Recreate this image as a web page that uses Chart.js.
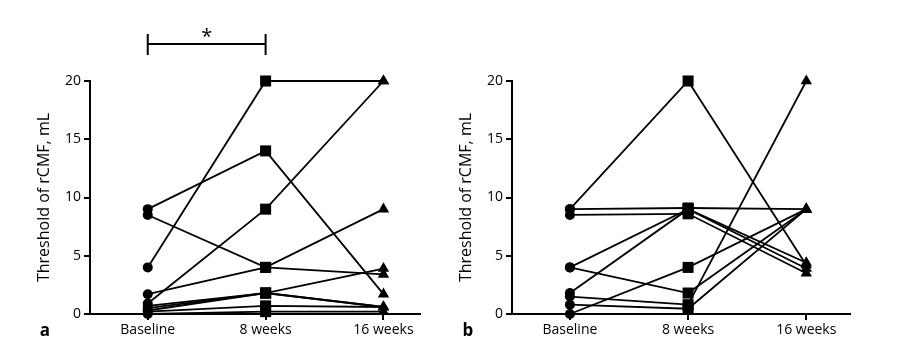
<!DOCTYPE html>
<html>
<head>
<meta charset="utf-8">
<script src="https://cdn.jsdelivr.net/npm/chart.js@4.4.0/dist/chart.umd.min.js"></script>
<style>
    body { margin: 0; background: #fff; }
    #contenedor { position: relative; width: 899px; height: 361px; }
    .panel { position: absolute; top: 0; height: 361px; }
</style>
</head>
<body>
<div id="contenedor">
    <div class="panel" style="left:0; width:450px;"><canvas id="graficoA"></canvas></div>
    <div class="panel" style="left:450px; width:449px;"><canvas id="graficoB"></canvas></div>
</div>
<script>
var semanas = ['Baseline', '8 weeks', '16 weeks'];
var ticksY = [0, 5, 10, 15, 20];

// panel a: un valor por paciente en cada momento
var baselineA = [4, 9, 8.5, 1.7, 0.9, 0.7, 0.5, 0.3, 0.2, 0];
var semana8A = [20, 14, 4, 4, 9, 1.8, 1.8, 1.8, 0.7, 0.2];
var semana16A = [20, 1.7, 3.4, 9, 20, 3.9, 0.6, 0.6, 0.6, 0.2];

// panel b
var baselineB = [9, 9, 8.5, 4, 1.8, 4, 1.5, 0.8, 0];
var semana8B = [20, 9.1, 8.6, 9, 9, 1.8, 0.8, 0.45, 4];
var semana16B = [4.2, 9, 3.5, 3.9, 4.4, 9, 20, 9, 9];

var marcadores = ['circle', 'rect', 'triangle'];
var radios = [5, 7.8, 6.6];

var fuente = '"Open Sans", "DejaVu Sans", sans-serif';

function armarDatasets(b, s8, s16) {
    var datasets = [];
    for (var i = 0; i < b.length; i++) {
        datasets.push({
            data: [{x: 0, y: b[i]}, {x: 1, y: s8[i]}, {x: 2, y: s16[i]}],
            borderColor: '#000',
            borderWidth: 1.8,
            pointStyle: marcadores,
            pointRadius: radios,
            pointBackgroundColor: '#000',
            pointBorderColor: '#000',
            pointBorderWidth: 0,
            clip: false
        });
    }
    return datasets;
}

// corchete, asterisco y letra del panel
var marcasPlugin = {
    id: 'marcas',
    afterDraw: function (chart, args, opts) {
        var ctx = chart.ctx;
        ctx.save();
        ctx.fillStyle = '#000';
        ctx.strokeStyle = '#000';
        if (opts.corchete) {
            var x0 = chart.scales.x.getPixelForValue(0);
            var x1 = chart.scales.x.getPixelForValue(1);
            ctx.lineWidth = 2;
            ctx.beginPath();
            ctx.moveTo(x0, 44); ctx.lineTo(x1, 44);
            ctx.moveTo(x0, 34); ctx.lineTo(x0, 55);
            ctx.moveTo(x1, 34); ctx.lineTo(x1, 55);
            ctx.stroke();
            ctx.font = '20px ' + fuente;
            ctx.textAlign = 'center';
            ctx.fillText('*', (x0 + x1) / 2, 43);
        }
        ctx.font = 'bold 17px ' + fuente;
        ctx.textAlign = 'center';
        ctx.fillText(opts.letra, opts.letraX, 336);
        ctx.restore();
    }
};

function opcionesPanel(anchoY, tituloPad, padDerecha, maxX, letra, letraX, corchete) {
    return {
        responsive: false,
        animation: false,
        layout: {padding: {top: 81, right: padDerecha, left: 0, bottom: 0}},
        plugins: {
            legend: {display: false},
            tooltip: {enabled: false},
            marcas: {letra: letra, letraX: letraX, corchete: corchete}
        },
        scales: {
            x: {
                type: 'linear',
                min: -0.49,
                max: maxX,
                afterBuildTicks: function (axis) {
                    axis.ticks = [{value: 0}, {value: 1}, {value: 2}];
                },
                afterFit: function (scale) { scale.height = 47; },
                ticks: {
                    callback: function (v) { return semanas[v]; },
                    color: '#000',
                    font: {family: fuente, size: 14},
                    padding: 2,
                    maxRotation: 0,
                    autoSkip: false
                },
                grid: {drawOnChartArea: false, drawTicks: true, tickLength: 6, color: '#000', lineWidth: 2},
                border: {color: '#000', width: 2}
            },
            y: {
                min: 0,
                max: 20,
                afterBuildTicks: function (axis) {
                    axis.ticks = ticksY.map(function (v) { return {value: v}; });
                },
                afterFit: function (scale) { scale.width = anchoY; },
                ticks: {
                    color: '#000',
                    font: {family: fuente, size: 14},
                    padding: 3
                },
                title: {
                    display: true,
                    text: 'Threshold of rCMF, mL',
                    color: '#000',
                    font: {family: fuente, size: 16},
                    padding: {top: tituloPad, bottom: 0}
                },
                grid: {drawOnChartArea: false, drawTicks: true, tickLength: 6, color: '#000', lineWidth: 2},
                border: {color: '#000', width: 2}
            }
        }
    };
}

var canvasA = document.getElementById('graficoA');
canvasA.width = 450; canvasA.height = 361;
new Chart(canvasA, {
    type: 'line',
    data: {datasets: armarDatasets(baselineA, semana8A, semana16A)},
    options: opcionesPanel(90, 35, 30, 2.31, 'a', 45, true),
    plugins: [marcasPlugin]
});

var canvasB = document.getElementById('graficoB');
canvasB.width = 449; canvasB.height = 361;
new Chart(canvasB, {
    type: 'line',
    data: {datasets: armarDatasets(baselineB, semana8B, semana16B)},
    options: opcionesPanel(62, 7, 49, 2.37, 'b', 18, false),
    plugins: [marcasPlugin]
});
</script>
</body>
</html>
